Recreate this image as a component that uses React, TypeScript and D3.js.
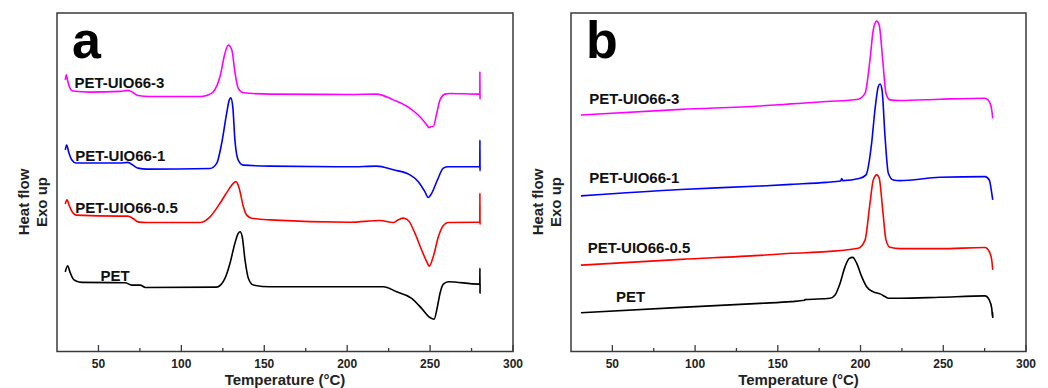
import React from 'react';
import * as d3 from 'd3';

type Pt = [number, number];

// Tick values (°C)
const xMajorTicks = [50, 100, 150, 200, 250, 300];
const xMinorTicks = [75, 125, 175, 225, 275];

const seriesNames = ['PET-UIO66-3', 'PET-UIO66-1', 'PET-UIO66-0.5', 'PET'];
const seriesColors = ['#ff00ff', '#0000ff', '#ff0000', '#000000'];

// Panel a (heating) — [temperature °C, heat flow a.u.]
const aUIO3: Pt[] = [
  [30.0, 8.02], [30.6, 8.17], [31.6, 7.96], [32.8, 7.78], [34.6, 7.69], [44.9, 7.66], [63.0, 7.68],
  [67.8, 7.71], [70.8, 7.65], [73.8, 7.56], [81.1, 7.53], [111.2, 7.53], [115.3, 7.56], [119.3, 7.67],
  [123.3, 8.12], [126.3, 8.81], [128.3, 9.05], [130.4, 8.91], [132.4, 8.22], [134.3, 7.77], [137.4, 7.64],
  [153.5, 7.60], [201.7, 7.59], [217.8, 7.60], [227.8, 7.43], [237.9, 7.18], [243.9, 6.93], [248.0, 6.69],
  [249.3, 6.61], [251.0, 6.64], [251.9, 6.64], [254.0, 7.03], [256.0, 7.43], [259.0, 7.60], [262.0, 7.62],
  [279.1, 7.60], [280.0, 7.60], [280.05, 8.26], [280.1, 7.45], [280.15, 7.57],
];
const aUIO1: Pt[] = [
  [30.0, 5.95], [30.8, 6.09], [32.2, 5.86], [34.0, 5.65], [36.5, 5.56], [63.0, 5.56], [67.8, 5.58],
  [70.8, 5.50], [73.8, 5.41], [79.3, 5.38], [117.3, 5.40], [121.3, 5.55], [124.3, 6.14], [127.3, 7.03],
  [128.9, 7.43], [129.8, 7.49], [131.0, 7.23], [132.3, 6.24], [134.3, 5.65], [137.4, 5.50], [153.5, 5.47],
  [201.7, 5.45], [217.8, 5.47], [227.8, 5.36], [237.9, 5.21], [242.9, 5.01], [246.9, 4.71], [248.9, 4.54],
  [251.0, 4.67], [254.4, 5.06], [258.0, 5.41], [261.0, 5.45], [279.1, 5.45], [280.0, 5.45],
  [280.05, 6.24], [280.1, 5.33], [280.15, 5.44],
];
const aUIO05: Pt[] = [
  [30.0, 4.35], [31.0, 4.47], [32.5, 4.29], [34.0, 4.13], [36.5, 4.02], [63.0, 3.99], [67.8, 3.99],
  [70.8, 3.92], [73.8, 3.82], [79.3, 3.80], [111.2, 3.80], [117.3, 3.97], [123.3, 4.37], [128.3, 4.76],
  [131.3, 4.96], [133.0, 5.01], [134.9, 4.81], [137.4, 4.27], [139.4, 4.02], [142.4, 3.93], [153.5, 3.88],
  [201.7, 3.81], [219.8, 3.86], [227.8, 3.80], [230.8, 3.88], [233.8, 3.93], [236.9, 3.86], [240.9, 3.48],
  [244.9, 2.99], [248.3, 2.61], [249.5, 2.51], [251.9, 2.79], [255.0, 3.38], [258.0, 3.71], [261.0, 3.80],
  [279.1, 3.81], [280.0, 3.81], [280.05, 4.67], [280.1, 3.75], [280.15, 3.80],
];
const aPET: Pt[] = [
  [30.0, 2.34], [31.4, 2.52], [32.8, 2.34], [34.6, 2.14], [36.5, 2.07], [40.0, 2.03], [66.0, 2.02],
  [70.1, 1.95], [75.2, 1.95], [78.3, 1.88], [121.1, 1.89], [126.3, 2.15], [129.3, 2.59], [132.3, 3.19],
  [134.3, 3.48], [135.4, 3.53], [136.7, 3.38], [138.4, 2.69], [140.4, 2.15], [143.4, 1.95], [153.5, 1.90],
  [221.8, 1.90], [229.9, 1.75], [238.9, 1.56], [244.9, 1.26], [249.9, 0.99], [252.4, 0.94], [254.4, 1.31],
  [256.0, 1.71], [258.0, 1.98], [261.0, 2.05], [279.1, 1.98], [280.0, 1.98], [280.05, 2.45],
  [280.1, 1.71], [280.15, 1.98],
];

// Panel b (cooling)
const bUIO3: Pt[] = [
  [31.0, 6.98], [91.5, 7.15], [139.2, 7.25], [158.0, 7.31], [179.5, 7.38], [198.6, 7.45], [202.7, 7.62],
  [205.7, 8.61], [207.7, 9.50], [209.8, 9.76], [211.3, 9.64], [213.4, 8.61], [215.4, 7.62], [217.8, 7.43],
  [223.8, 7.41], [248.0, 7.45], [275.2, 7.48], [277.8, 7.38], [279.3, 7.13], [279.9, 6.88],
];
const bUIO1: Pt[] = [
  [31.0, 4.59], [91.5, 4.78], [139.2, 4.88], [158.0, 4.93], [179.5, 4.99], [188.0, 5.03], [188.6, 5.10],
  [189.3, 5.04], [199.7, 5.11], [203.3, 5.21], [206.7, 6.15], [208.7, 7.13], [210.7, 7.82], [211.8, 7.90],
  [213.0, 7.72], [214.8, 6.34], [216.8, 5.26], [219.8, 5.06], [223.8, 5.04], [248.0, 5.14], [275.2, 5.16],
  [277.8, 5.06], [279.3, 4.67], [279.9, 4.47],
];
const bUIO05: Pt[] = [
  [31.0, 2.54], [91.5, 2.71], [139.2, 2.83], [158.0, 2.89], [179.5, 2.94], [198.6, 3.04], [202.7, 3.28],
  [205.7, 4.37], [207.7, 5.06], [209.8, 5.21], [211.3, 5.11], [213.4, 4.17], [215.4, 3.28], [217.8, 3.07],
  [223.8, 3.03], [248.0, 3.03], [275.2, 3.06], [277.8, 2.94], [279.3, 2.69], [279.9, 2.40],
];
const bPET: Pt[] = [
  [31.0, 1.13], [91.5, 1.29], [139.2, 1.41], [158.0, 1.46], [166.0, 1.50], [166.4, 1.52], [181.5, 1.56],
  [184.6, 1.66], [187.6, 2.00], [190.6, 2.49], [193.2, 2.74], [195.3, 2.77], [197.7, 2.59], [200.7, 2.20],
  [203.7, 1.90], [207.7, 1.75], [211.8, 1.69], [214.8, 1.61], [216.8, 1.56], [223.8, 1.56], [248.0, 1.59],
  [275.2, 1.63], [277.8, 1.51], [279.3, 1.26], [279.75, 1.01], [279.85, 1.15], [279.95, 0.98],
];

// label anchors (data coords)
const aLabelAnchors: Pt[] = [[35.5, 7.78], [36.0, 5.61], [36.0, 4.08], [51.2, 2.07]];
const bLabelAnchors: Pt[] = [[36.1, 7.31], [36.1, 4.97], [35.1, 2.90], [52.2, 1.46]];

const FONT = '"Liberation Sans", Arial, Helvetica, sans-serif';
const TOP = 13;
const BOTTOM = 351.5;

interface PanelProps {
  left: number;
  right: number;
  letter: string;
  series: Pt[][];
  anchors: Pt[];
}

function Panel({ left, right, letter, series, anchors }: PanelProps) {
  const x = d3.scaleLinear().domain([25, 300]).range([left, right]);
  const y = d3.scaleLinear().domain([0, 10]).range([351, 13]);
  const line = d3
    .line<Pt>()
    .x((d) => x(d[0]))
    .y((d) => y(d[1]))
    .curve(d3.curveMonotoneX);
  const cx = (left + right) / 2;
  return (
    <g>
      {series.map((s, i) => (
        <path key={i} d={line(s) || ''} fill="none" stroke={seriesColors[i]} strokeWidth={1.6} strokeLinejoin="round" />
      ))}
      <rect x={left} y={TOP} width={right - left} height={BOTTOM - TOP} fill="none" stroke="#3a3a3a" strokeWidth={1.5} />
      {xMajorTicks.map((t) => (
        <g key={'M' + t}>
          <line x1={x(t)} x2={x(t)} y1={BOTTOM} y2={BOTTOM - 6.5} stroke="#3a3a3a" strokeWidth={1.3} />
          <text x={x(t)} y={368} textAnchor="middle" fontFamily={FONT} fontWeight="bold" fontSize={12} fill="#222">
            {t}
          </text>
        </g>
      ))}
      {xMinorTicks.map((t) => (
        <line key={'m' + t} x1={x(t)} x2={x(t)} y1={BOTTOM} y2={BOTTOM - 3.5} stroke="#3a3a3a" strokeWidth={1.3} />
      ))}
      <text x={cx} y={385} textAnchor="middle" fontFamily={FONT} fontWeight="bold" fontSize={15} fill="#222">
        Temperature (°C)
      </text>
      <text transform={`translate(${left - 28.5},202) rotate(-90)`} textAnchor="middle" fontFamily={FONT} fontWeight="bold" fontSize={15} fill="#222">
        Heat flow
      </text>
      <text transform={`translate(${left - 10},202) rotate(-90)`} textAnchor="middle" fontFamily={FONT} fontWeight="bold" fontSize={15} fill="#222">
        Exo up
      </text>
      <text x={left + 15} y={58} fontFamily={FONT} fontWeight="bold" fontSize={52} fill="#000">
        {letter}
      </text>
      {anchors.map((a, i) => (
        <text key={'l' + i} x={x(a[0])} y={y(a[1])} fontFamily={FONT} fontWeight="bold" fontSize={15} fill="#111">
          {seriesNames[i]}
        </text>
      ))}
    </g>
  );
}

export default function App() {
  return (
    <svg
      width={1048}
      height={388}
      viewBox="0 0 1048 388"
      style={{ position: 'absolute', left: 0, top: 0, background: '#fff' }}
    >
      <rect x={0} y={0} width={1048} height={388} fill="#fff" />
      <Panel left={57} right={513} letter="a" series={[aUIO3, aUIO1, aUIO05, aPET]} anchors={aLabelAnchors} />
      <Panel left={571} right={1026} letter="b" series={[bUIO3, bUIO1, bUIO05, bPET]} anchors={bLabelAnchors} />
    </svg>
  );
}
